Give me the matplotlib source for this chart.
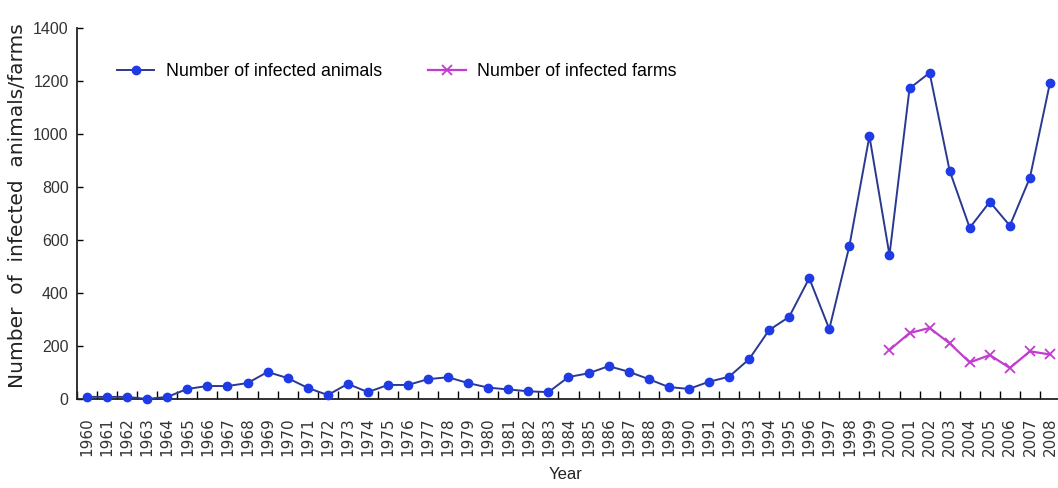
import matplotlib
matplotlib.use('Agg')
import matplotlib.pyplot as plt
from matplotlib import font_manager
import numpy as np

plt.rcParams['font.family'] = ['Liberation Sans', 'DejaVu Sans']

# narrow font for the horizontal texts, if it is there
names = set(f.name for f in font_manager.fontManager.ttflist)
if 'Liberation Sans Narrow' in names:
    narrow = 'Liberation Sans Narrow'
    leg_size = 15.5
else:
    narrow = 'Liberation Sans'
    leg_size = 12.8

# data
years = list(range(1960, 2009))
animals = [8, 8, 8, 0, 8, 38, 49, 49, 60, 102,
           79, 42, 15, 57, 26, 53, 53, 75, 82, 60,
           43, 36, 29, 26, 83, 97, 124, 103, 75, 45,
           38, 65, 84, 150, 260, 310, 456, 264, 577, 992,
           543, 1172, 1231, 861, 646, 744, 654, 835, 1193]
farm_years = list(range(2000, 2009))
farms = [185, 249, 268, 210, 138, 166, 117, 180, 168]

x = np.arange(len(years))
xf = np.array([years.index(y) for y in farm_years])

fig = plt.figure(figsize=(10.58, 4.88), dpi=100)
ax = fig.add_axes([77 / 1058, 1 - 399 / 488, 983 / 1058, 371 / 488])

ax.plot(x, animals, color='#2a3990', lw=1.4, marker='o', markersize=6,
        markerfacecolor='#1f3be6', markeredgecolor='#1f3be6',
        label='Number of infected animals', clip_on=False, zorder=3)
ax.plot(xf, farms, color='#c23ccf', lw=1.6, marker='x', markersize=7,
        markeredgewidth=1.3, label='Number of infected farms', clip_on=False, zorder=3)

ax.set_xlim(-0.5, len(years) - 0.5)
ax.set_ylim(0, 1400)
ax.set_yticks(range(0, 1401, 200))

# labels at centres, tick marks on the boundaries
ax.set_xticks(x)
ax.set_xticklabels([str(y) for y in years], rotation=90, fontsize=11,
                   family='DejaVu Sans', color='#333333')
ax.tick_params(axis='x', which='major', length=0, pad=13)
ax.set_xticks(np.arange(-0.5, len(years), 1.0), minor=True)
ax.tick_params(axis='x', which='minor', direction='in', length=6, width=1)
ax.tick_params(axis='y', direction='in', length=4, width=1, labelsize=11.5,
               labelcolor='#333333', pad=6)

for s in ['top', 'right']:
    ax.spines[s].set_visible(False)
for s in ['left', 'bottom']:
    ax.spines[s].set_linewidth(1.3)
    ax.spines[s].set_color('#222222')

ax.set_ylabel('Number  of  infected  animals/farms', fontsize=14.5, family='DejaVu Sans',
              color='#222222')
ax.yaxis.set_label_coords(-50 / 983, (399 - 206) / 371)
ax.set_xlabel('Year', fontsize=12, family=narrow, color='#222222')
ax.xaxis.set_label_coords(0.497, -68 / 371)

fig.legend(*ax.get_legend_handles_labels(), loc='center left',
           bbox_to_anchor=(117 / 1058, 1 - 72 / 488), ncol=2, frameon=False,
           prop={'family': narrow, 'size': leg_size}, borderpad=0, borderaxespad=0,
           columnspacing=2.6, handlelength=2.1, handletextpad=0.65)

fig.savefig('out.png', dpi=100)
